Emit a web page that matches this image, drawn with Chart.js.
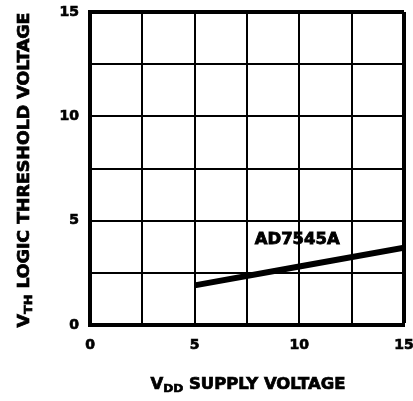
<!DOCTYPE html>
<html>
<head>
<meta charset="utf-8">
<script src="https://cdn.jsdelivr.net/npm/chart.js@4"></script>
<style>
  html, body { margin: 0; padding: 0; background: #fff; }
  #wrap { width: 413px; height: 401px; }
</style>
</head>
<body>
<div id="wrap"><canvas id="c" width="413" height="401"></canvas></div>
<script>
// data
const supplyVolts = [5, 10, 15];
const thresholdVolts = [1.9, 2.8, 3.7];
const tickValues = [0, 5, 10, 15];
const seriesName = 'AD7545A';
const labelAt = { x: 9.9, y: 4.05 };

const HEAVY = '"DejaVu Sans", sans-serif';

// fill + thin stroke so the text looks as heavy as the scan
function heavyText(ctx, s, x, y) {
  ctx.fillText(s, x, y);
  ctx.strokeText(s, x, y);
}

// draws main + subscript + rest, centred on (0,0), stretched to width
function drawSubTitle(ctx, main, sub, rest, size, width) {
  const big = 'bold ' + size + 'px ' + HEAVY;
  const small = 'bold ' + Math.round(size * 0.72) + 'px ' + HEAVY;
  ctx.font = big;
  const w1 = ctx.measureText(main).width;
  const w3 = ctx.measureText(rest).width;
  ctx.font = small;
  const w2 = ctx.measureText(sub).width;
  const total = w1 + w2 + w3;
  ctx.scale(width / total, 1);
  let x = -total / 2;
  ctx.textBaseline = 'middle';
  ctx.textAlign = 'left';
  ctx.fillStyle = '#000';
  ctx.strokeStyle = '#000';
  ctx.lineWidth = 0.7;
  ctx.font = big;
  heavyText(ctx, main, x, 0);
  x += w1;
  ctx.font = small;
  heavyText(ctx, sub, x, size * 0.25);
  x += w2;
  ctx.font = big;
  heavyText(ctx, rest, x, 0);
}

const extras = {
  id: 'extras',
  afterDraw(chart) {
    const ctx = chart.ctx;
    const xs = chart.scales.x, ys = chart.scales.y;
    ctx.save();
    // series label
    ctx.save();
    ctx.translate(xs.getPixelForValue(labelAt.x), ys.getPixelForValue(labelAt.y));
    ctx.font = 'bold 15px ' + HEAVY;
    const lw = ctx.measureText(seriesName).width;
    ctx.scale(85 / lw, 1);
    ctx.fillStyle = '#000';
    ctx.strokeStyle = '#000';
    ctx.lineWidth = 0.8;
    ctx.textAlign = 'center';
    ctx.textBaseline = 'middle';
    heavyText(ctx, seriesName, 0, 0);
    ctx.restore();
    // x title
    ctx.save();
    ctx.translate(248, 385);
    drawSubTitle(ctx, 'V', 'DD', ' SUPPLY VOLTAGE', 15, 195);
    ctx.restore();
    // y title
    ctx.save();
    ctx.translate(25, 170);
    ctx.rotate(-Math.PI / 2);
    drawSubTitle(ctx, 'V', 'TH', ' LOGIC THRESHOLD VOLTAGE', 15, 315);
    ctx.restore();
    ctx.restore();
  }
};

const edgeWidth = (c) => (c.tick && (c.tick.value === 15)) ? 4 : 2;

const tickOpts = {
  stepSize: 2.5, color: '#000',
  textStrokeColor: '#000', textStrokeWidth: 0.7,
  font: { family: HEAVY, size: 14, weight: 'bold' },
  callback: (v) => tickValues.includes(v) ? String(v) : ''
};

new Chart(document.getElementById('c'), {
  type: 'line',
  data: {
    datasets: [{
      label: seriesName,
      data: supplyVolts.map((v, i) => ({ x: v, y: thresholdVolts[i] })),
      borderColor: '#000',
      borderWidth: 6,
      borderCapStyle: 'butt',
      pointRadius: 0,
      tension: 0
    }]
  },
  options: {
    responsive: false,
    animation: false,
    layout: { padding: { top: 12, right: 9, left: 0, bottom: 0 } },
    plugins: { legend: { display: false }, tooltip: { enabled: false } },
    scales: {
      x: {
        type: 'linear', min: 0, max: 15,
        afterFit(s) { s.height = 76; s.paddingLeft = 0; s.paddingRight = 0; },
        ticks: Object.assign({ padding: 12 }, tickOpts),
        grid: { color: '#000', lineWidth: edgeWidth, drawTicks: false },
        border: { color: '#000', width: 4 }
      },
      y: {
        type: 'linear', min: 0, max: 15,
        afterFit(s) { s.width = 90; s.paddingTop = 0; s.paddingBottom = 0; },
        ticks: Object.assign({ padding: 11 }, tickOpts),
        grid: { color: '#000', lineWidth: edgeWidth, drawTicks: false },
        border: { color: '#000', width: 4 }
      }
    }
  },
  plugins: [extras]
});
</script>
</body>
</html>
